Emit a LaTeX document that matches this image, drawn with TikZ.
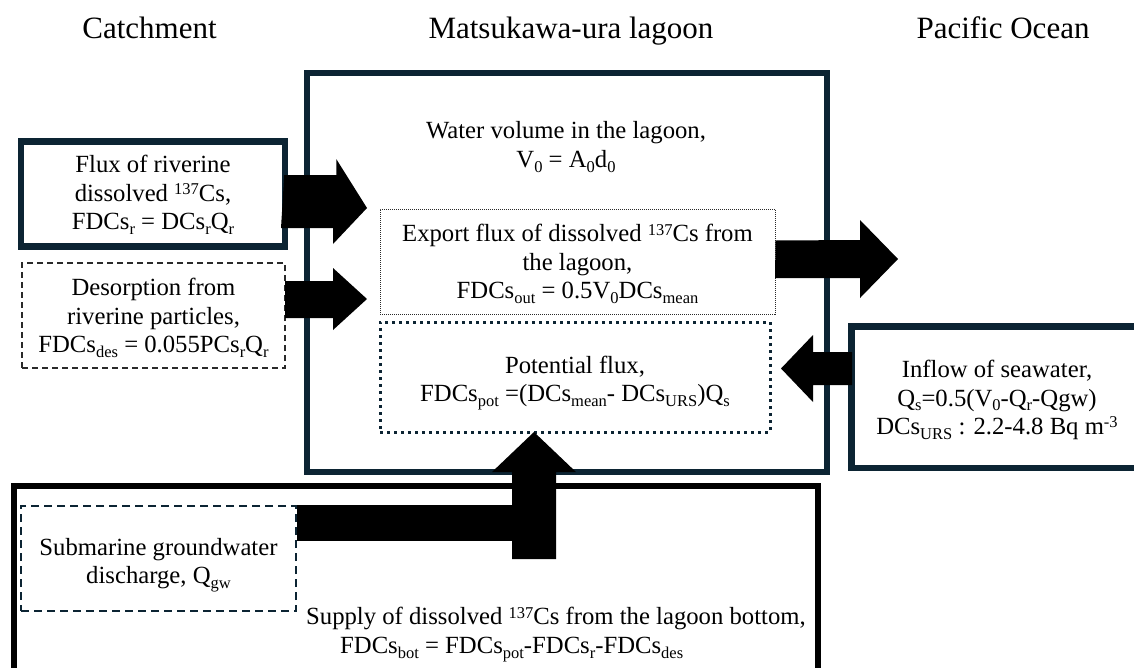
\documentclass[tikz,border=0pt]{standalone}
\usepackage{fontspec}
\setmainfont{Liberation Serif}
\definecolor{navy}{HTML}{0C2433}
\definecolor{dgray}{HTML}{2A2A2A}
\newcommand{\sbs}[1]{\raisebox{-0.19em}{\fontsize{16.5}{16.5}\selectfont #1}}
\newcommand{\sps}[1]{\raisebox{0.27em}{\fontsize{16.5}{16.5}\selectfont #1}}
\tikzset{
  body/.style={font=\fontsize{24.7}{28.5}\selectfont, align=center, inner sep=0pt},
  ttl/.style={font=\fontsize{31}{34}\selectfont, inner sep=0pt, anchor=base},
  navybox/.style={draw=navy, line width=6.5pt, inner sep=0pt},
  lagoonbox/.style={draw=navy, line width=6pt, inner sep=0pt},
  blackbox/.style={draw=black, line width=6pt, inner sep=0pt},
  desbox/.style={draw=dgray, line width=1.3pt, dash pattern=on 6pt off 4pt, inner sep=0pt},
  gwbox/.style={draw=navy, line width=2.5pt, dash pattern=on 8pt off 5pt, inner sep=0pt},
  expbox/.style={draw=dgray, line width=1pt, dash pattern=on 1pt off 1pt, inner sep=0pt},
  potbox/.style={draw=navy, line width=3pt, dash pattern=on 3pt off 4pt, inner sep=0pt},
  blockarrow/.style={fill=black, draw=none},
}
\begin{document}
\begin{tikzpicture}[x=1pt, y=-1pt]
\useasboundingbox (0,0) rectangle (1134,667);
\clip (0,0) rectangle (1134,667);

% titles
\node[ttl] (tcatch) at (149.5,38) {Catchment};
\node[ttl] (tlag) at (571,38) {Matsukawa-ura lagoon};
\node[ttl] (tpac) at (1003,38) {Pacific Ocean};

% boxes
\node[lagoonbox, minimum width=520pt, minimum height=399pt] (lagoon) at (567,272.5) {};
\node[blackbox, minimum width=804pt, minimum height=260pt] (bottom) at (416,616) {};
\node[navybox, minimum width=290pt, minimum height=141.5pt] (inflow) at (996.5,397.25) {};

\node[navybox, minimum width=264pt, minimum height=105pt] (flux) at (153,194) {};
\node[body] (fluxt) at (153,195) {Flux of riverine\\ dissolved \sps{137}Cs,\\ FDCs\sbs{r} = DCs\sbs{r}Q\sbs{r}};

\node[desbox, minimum width=263pt, minimum height=105pt] (des) at (153.5,315.5) {};
\node[body] (dest) at (153.5,318) {Desorption from\\ riverine particles,\\ FDCs\sbs{des} = 0.055PCs\sbs{r}Q\sbs{r}};

\node[body] (water) at (566,147) {Water volume in the lagoon,\\ V\sbs{0} = A\sbs{0}d\sbs{0}};

\node[expbox, minimum width=395pt, minimum height=105pt] (exp) at (577.5,261.5) {};
\node[body] (expt) at (577.5,264) {Export flux of dissolved \sps{137}Cs from\\ the lagoon,\\ FDCs\sbs{out} = 0.5V\sbs{0}DCs\sbs{mean}};

\node[potbox, minimum width=390pt, minimum height=110pt] (pot) at (575,377) {};
\node[body] (pott) at (575,383) {Potential flux,\\ FDCs\sbs{pot} =(DCs\sbs{mean}- DCs\sbs{URS})Q\sbs{s}};

\node[body] (inflowt) at (997,400) {Inflow of seawater,\\ Q\sbs{s}=0.5(V\sbs{0}-Q\sbs{r}-Qgw)\\ DCs\sbs{URS} : 2.2-4.8 Bq m\sps{-3}};

\node[gwbox, minimum width=275pt, minimum height=105pt] (gw) at (158.5,558.5) {};
\node[body] (gwt) at (158.5,565) {Submarine groundwater\\ discharge, Q\sbs{gw}};

\node[body, align=left, anchor=north west] (supply) at (306,607) {Supply of dissolved \sps{137}Cs from the lagoon bottom,\\ \hspace*{34pt}FDCs\sbs{bot} = FDCs\sbs{pot}-FDCs\sbs{r}-FDCs\sbs{des}};

% block arrows
\fill[blockarrow] (flux.east) ++(-4,-19) -- ++(52,0) -- ++(0,-16) -- (367,208) -- (333,244) -- (333,228) -- (281,228) -- cycle;
\fill[blockarrow] (285,281) -- (333,281) -- (333,268) -- (367,299) -- (333,330) -- (333,318) -- (285,318) -- cycle;
\fill[blockarrow] (exp.east) ++(0,-21) -- (860,240) -- (860,220) -- (898,259) -- (860,298) -- (860,278) -- (775,278) -- cycle;
\fill[blockarrow] (852,352) -- (813,352) -- (813,335) -- (781,368.5) -- (813,402) -- (813,385) -- (852,385) -- cycle;
\fill[blockarrow] (gw.east |- 0,505) rectangle (556,541);
\fill[blockarrow] (512,559) -- (512,472) -- (492,472) -- (534,432) -- (576,472) -- (556,472) -- (556,559) -- cycle;
\end{tikzpicture}
\end{document}
